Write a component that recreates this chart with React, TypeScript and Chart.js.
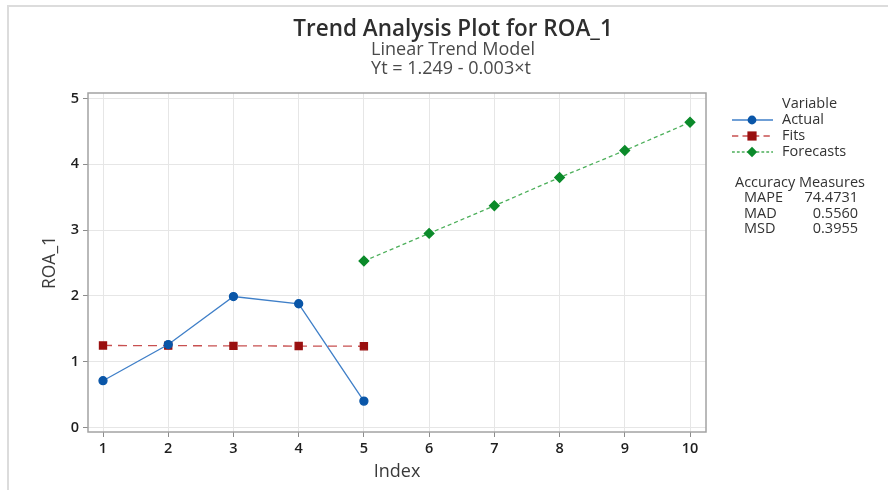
import React, { useEffect, useRef } from "react";
import { Chart, registerables } from "chart.js";

Chart.register(...registerables);

const titleText = "Trend Analysis Plot for ROA_1";
const subtitleText = "Linear Trend Model";
const equationText = "Yt = 1.249 - 0.003×t";
const xAxisTitle = "Index";
const yAxisTitle = "ROA_1";

const indexTicks = [1, 2, 3, 4, 5, 6, 7, 8, 9, 10];
const yTicks = [0, 1, 2, 3, 4, 5];

const actualIndex = [1, 2, 3, 4, 5];
const actualValues = [0.71, 1.26, 1.99, 1.88, 0.4];
const fitsIndex = [1, 2, 3, 4, 5];
const fitsValues = [1.246, 1.243, 1.24, 1.237, 1.234];
const forecastIndex = [5, 6, 7, 8, 9, 10];
const forecastValues = [2.53, 2.95, 3.37, 3.8, 4.21, 4.64];

const legendTitle = "Variable";
const legendLabels = ["Actual", "Fits", "Forecasts"];
const accuracyTitle = "Accuracy Measures";
const accuracyNames = ["MAPE", "MAD", "MSD"];
const accuracyValues = ["74.4731", "0.5560", "0.3955"];

const FONT = "'Open Sans', 'Noto Sans', sans-serif";

const seriesStyles = [
  { line: "#3f7fc8", marker: "#0a56a8", dash: [] as number[], shape: "circle" },
  { line: "#c85050", marker: "#9a1010", dash: [9, 6], shape: "rect" },
  { line: "#4caf5a", marker: "#0b8a2a", dash: [4, 3], shape: "rectRot" },
];

function drawMarker(ctx: CanvasRenderingContext2D, shape: string, x: number, y: number, color: string) {
  ctx.save();
  ctx.fillStyle = color;
  ctx.setLineDash([]);
  ctx.beginPath();
  if (shape === "circle") {
    ctx.arc(x, y, 4.4, 0, Math.PI * 2);
  } else if (shape === "rect") {
    ctx.rect(x - 4.6, y - 4.6, 9.2, 9.2);
  } else {
    ctx.moveTo(x, y - 5.2);
    ctx.lineTo(x + 5.2, y);
    ctx.lineTo(x, y + 5.2);
    ctx.lineTo(x - 5.2, y);
    ctx.closePath();
  }
  ctx.fill();
  ctx.restore();
}

const decorPlugin = {
  id: "decor",
  beforeDraw(chart: any) {
    const ctx = chart.ctx as CanvasRenderingContext2D;
    ctx.save();
    ctx.fillStyle = "#ffffff";
    ctx.fillRect(0, 0, chart.width, chart.height);
    ctx.strokeStyle = "#dcdcdc";
    ctx.lineWidth = 2;
    ctx.beginPath();
    ctx.moveTo(8, chart.height);
    ctx.lineTo(8, 6);
    ctx.lineTo(chart.width, 6);
    ctx.stroke();
    ctx.restore();
  },
  beforeDatasetsDraw(chart: any) {
    const ctx = chart.ctx as CanvasRenderingContext2D;
    const a = chart.chartArea;
    ctx.save();
    ctx.strokeStyle = "#a3a3a3";
    ctx.lineWidth = 1.5;
    ctx.strokeRect(a.left, a.top, a.right - a.left, a.bottom - a.top);
    ctx.restore();
  },
  afterDraw(chart: any) {
    const ctx = chart.ctx as CanvasRenderingContext2D;
    ctx.save();
    ctx.textBaseline = "middle";
    ctx.textAlign = "center";
    ctx.fillStyle = "#2e2e2e";
    ctx.font = `600 22.5px ${FONT}`;
    ctx.fillText(titleText, 453, 30);
    ctx.fillStyle = "#4a4a4a";
    ctx.font = `400 18px ${FONT}`;
    ctx.fillText(subtitleText, 453, 50);
    ctx.fillText(equationText, 451, 69);

    // legend
    ctx.textAlign = "left";
    ctx.fillStyle = "#333333";
    ctx.font = `500 14.5px ${FONT}`;
    ctx.fillText(legendTitle, 782, 104);
    legendLabels.forEach((label, i) => {
      const y = 120 + 16 * i;
      const st = seriesStyles[i];
      ctx.save();
      ctx.strokeStyle = st.line;
      ctx.lineWidth = 1.4;
      ctx.setLineDash(st.dash.length ? [st.dash[0] * 0.7, st.dash[1] * 0.7] : []);
      ctx.beginPath();
      ctx.moveTo(732, y);
      ctx.lineTo(773, y);
      ctx.stroke();
      ctx.restore();
      drawMarker(ctx, st.shape, 752, y, st.marker);
      ctx.fillStyle = "#333333";
      ctx.fillText(label, 782, y);
    });

    ctx.fillText(accuracyTitle, 735, 183);
    accuracyNames.forEach((name, i) => {
      const y = 198 + 15.5 * i;
      ctx.textAlign = "left";
      ctx.fillText(name, 744, y);
      ctx.textAlign = "right";
      ctx.fillText(accuracyValues[i], 858, y);
    });
    ctx.restore();
  },
};

export default function App() {
  const canvasRef = useRef<HTMLCanvasElement | null>(null);

  useEffect(() => {
    if (!canvasRef.current) return;
    const mk = (xs: number[], ys: number[]) => xs.map((x, i) => ({ x, y: ys[i] }));
    const chart = new Chart(canvasRef.current, {
      type: "line",
      data: {
        datasets: [
          {
            label: legendLabels[0],
            data: mk(actualIndex, actualValues),
            borderColor: seriesStyles[0].line,
            backgroundColor: seriesStyles[0].marker,
            pointBackgroundColor: seriesStyles[0].marker,
            pointBorderColor: seriesStyles[0].marker,
            pointStyle: "circle",
            pointRadius: 4,
            borderWidth: 1.3,
            tension: 0,
          },
          {
            label: legendLabels[1],
            data: mk(fitsIndex, fitsValues),
            borderColor: seriesStyles[1].line,
            backgroundColor: seriesStyles[1].marker,
            pointBackgroundColor: seriesStyles[1].marker,
            pointBorderColor: seriesStyles[1].marker,
            pointStyle: "rect",
            pointRadius: 5,
            borderWidth: 1.3,
            borderDash: seriesStyles[1].dash,
            tension: 0,
          },
          {
            label: legendLabels[2],
            data: mk(forecastIndex, forecastValues),
            borderColor: seriesStyles[2].line,
            backgroundColor: seriesStyles[2].marker,
            pointBackgroundColor: seriesStyles[2].marker,
            pointBorderColor: seriesStyles[2].marker,
            pointStyle: "rectRot",
            pointRadius: 4.8,
            borderWidth: 1.3,
            borderDash: seriesStyles[2].dash,
            tension: 0,
          },
        ],
      },
      options: {
        responsive: false,
        animation: false,
        layout: { padding: { left: 40, top: 93, right: 182, bottom: 7 } },
        plugins: {
          legend: { display: false },
          title: { display: false },
          tooltip: { enabled: false },
        },
        scales: {
          x: {
            type: "linear",
            min: 0.77,
            max: 10.245,
            afterFit: (s: any) => {
              s.height = 51;
            },
            afterBuildTicks: (s: any) => {
              s.ticks = indexTicks.map((v) => ({ value: v }));
            },
            grid: {
              color: "#e6e6e6",
              lineWidth: 1,
              drawTicks: true,
              tickLength: 5,
              tickColor: "#8c8c8c",
            },
            border: { display: false },
            ticks: {
              padding: 3,
              color: "#1e1e1e",
              font: { family: FONT, size: 14.5, weight: "600", lineHeight: 1.2 },
              maxRotation: 0,
            },
            title: {
              display: true,
              text: xAxisTitle,
              color: "#3a3a3a",
              padding: { top: 0, bottom: 0 },
              font: { family: FONT, size: 18, weight: "500", lineHeight: 1.2 },
            },
          },
          y: {
            type: "linear",
            min: -0.07,
            max: 5.085,
            afterFit: (s: any) => {
              s.width = 48;
            },
            afterBuildTicks: (s: any) => {
              s.ticks = yTicks.map((v) => ({ value: v }));
            },
            grid: {
              color: "#e6e6e6",
              lineWidth: 1,
              drawTicks: true,
              tickLength: 5,
              tickColor: "#8c8c8c",
            },
            border: { display: false },
            ticks: {
              padding: 4,
              color: "#1e1e1e",
              font: { family: FONT, size: 14.5, weight: "600", lineHeight: 1.2 },
            },
            title: {
              display: true,
              text: yAxisTitle,
              color: "#3a3a3a",
              padding: { top: 0, bottom: 0 },
              font: { family: FONT, size: 17.5, weight: "500", lineHeight: 1.2 },
            },
          },
        },
      },
      plugins: [decorPlugin],
    });
    return () => chart.destroy();
  }, []);

  return (
    <div style={{ position: "fixed", left: 0, top: 0, width: 888, height: 490, background: "#fff" }}>
      <canvas ref={canvasRef} width={888} height={490} style={{ display: "block" }} />
    </div>
  );
}
